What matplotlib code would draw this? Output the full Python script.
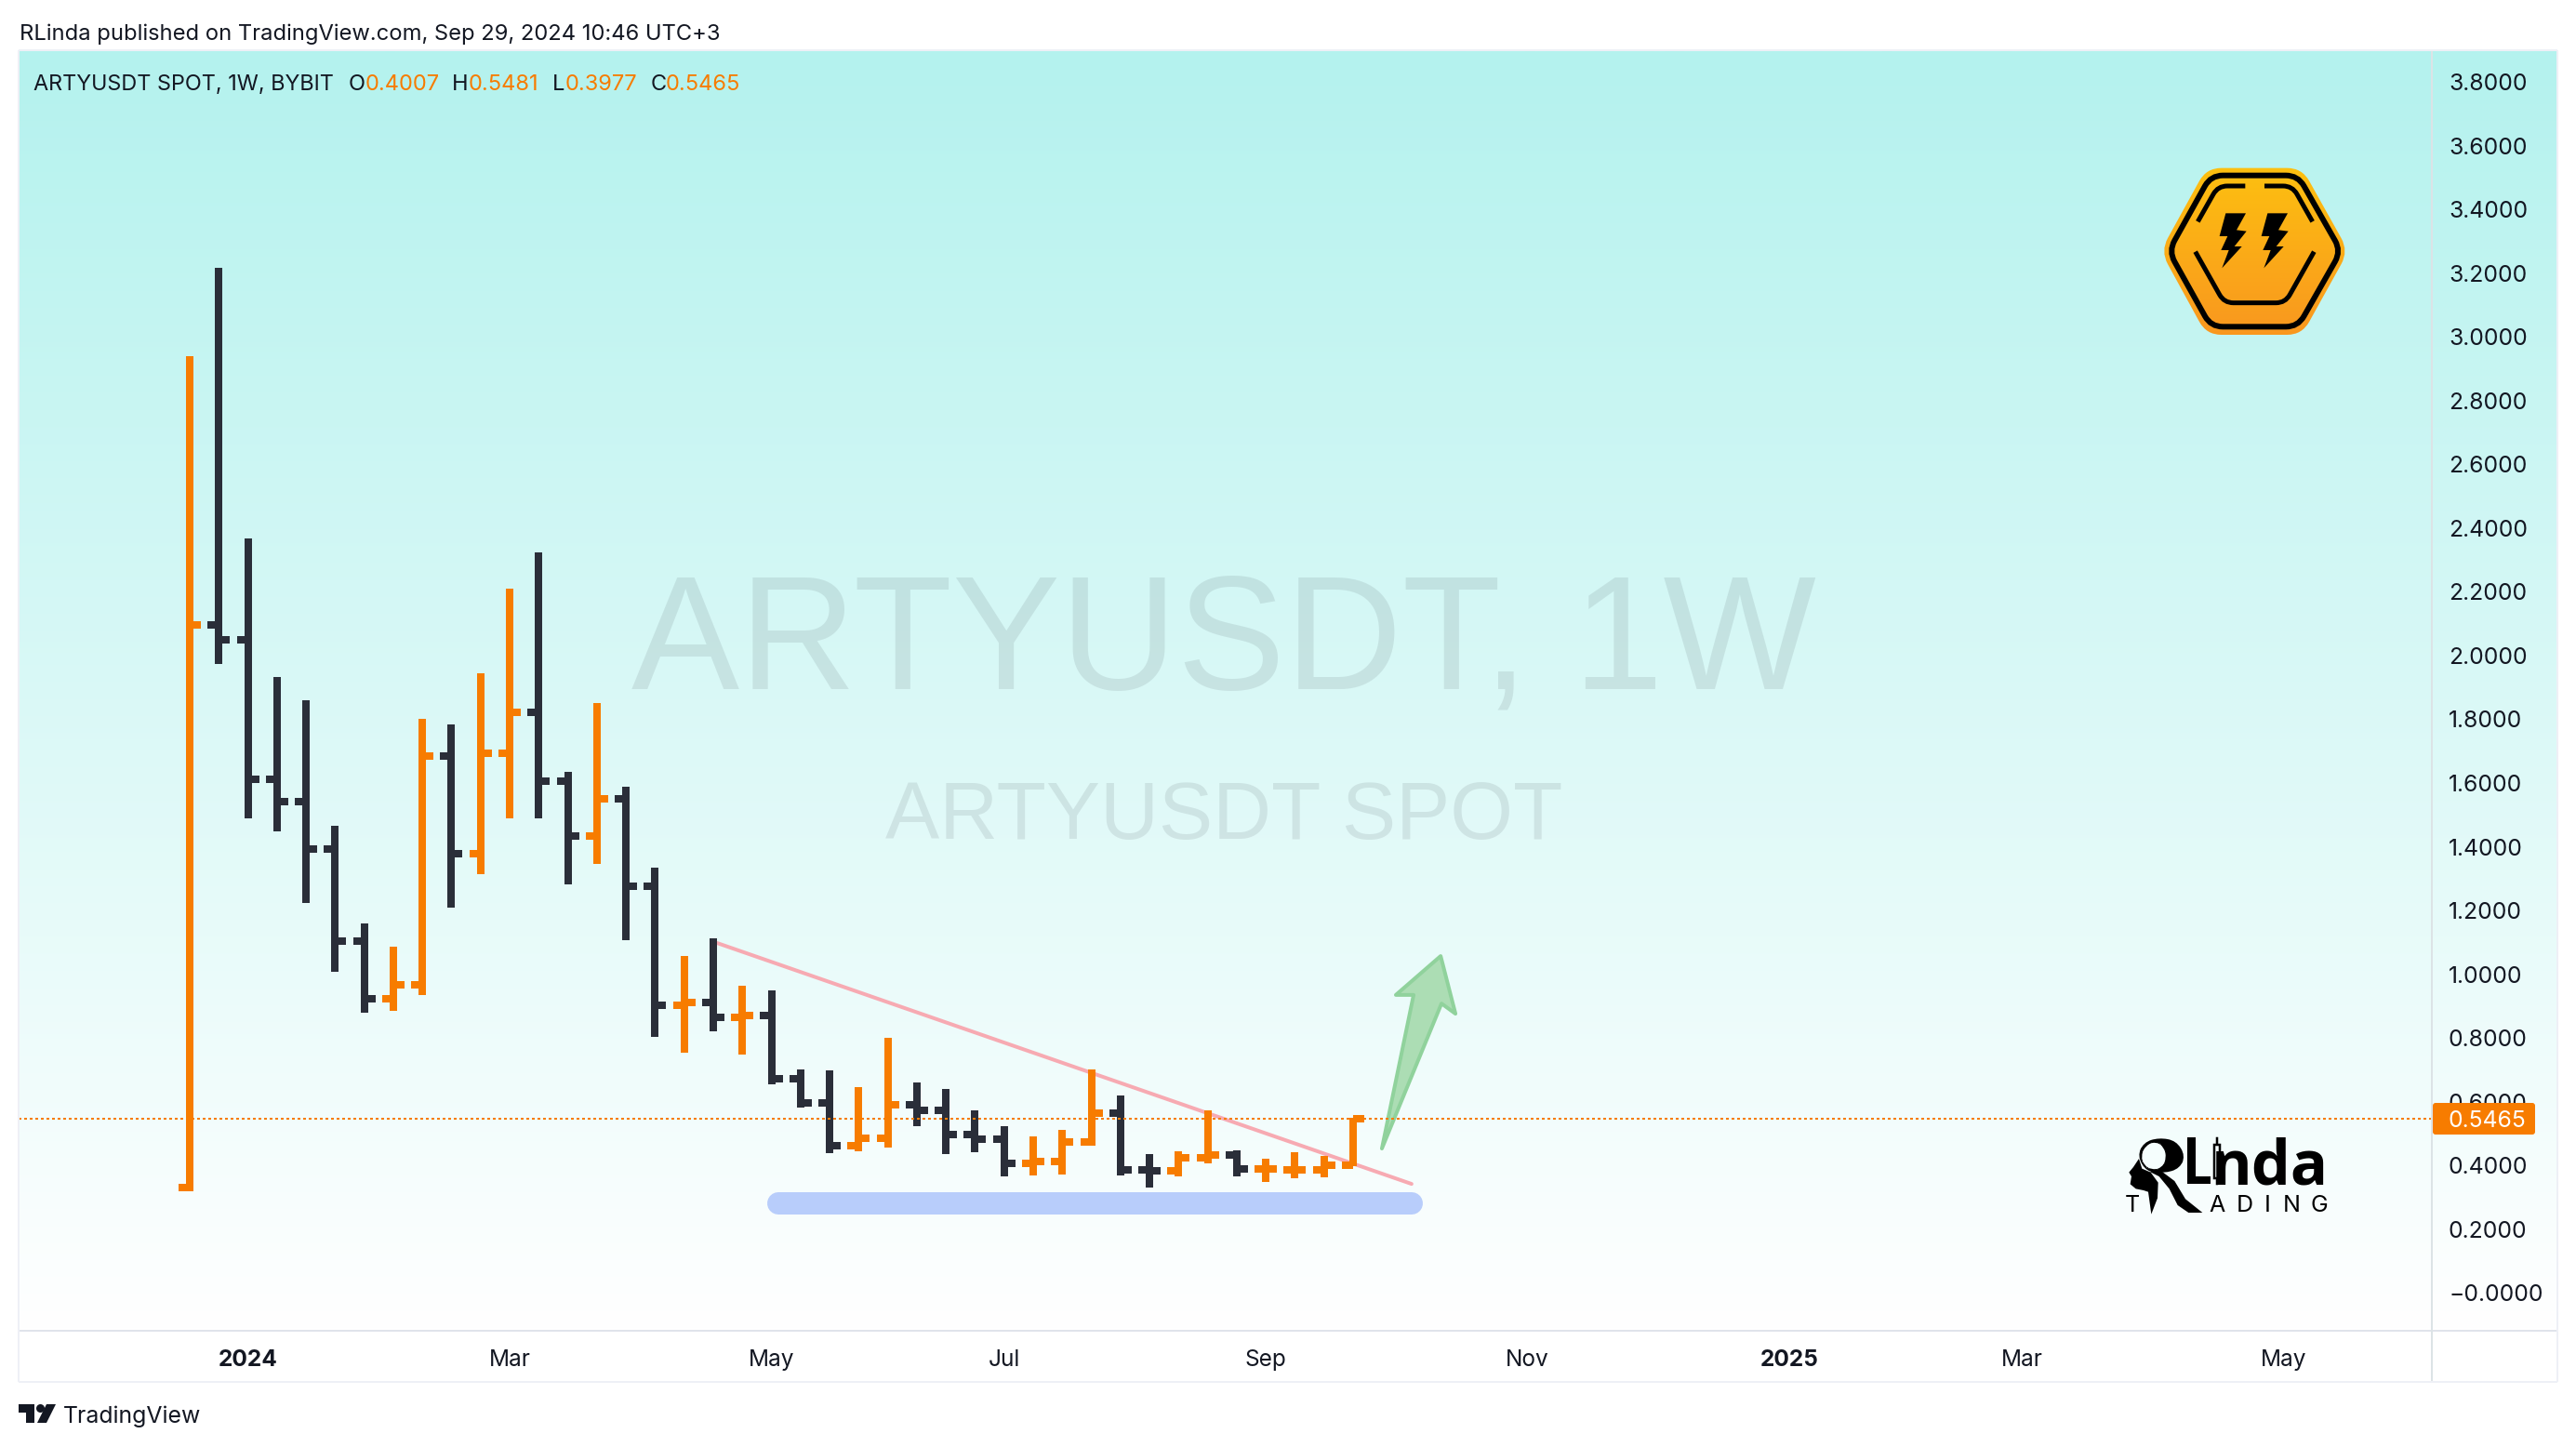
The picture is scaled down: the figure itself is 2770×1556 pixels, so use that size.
import matplotlib
matplotlib.use("Agg")
import matplotlib.pyplot as plt
import numpy as np
from matplotlib.patches import Circle, PathPatch, Polygon, Rectangle
from matplotlib.path import Path

plt.rcParams["font.family"] = ["Inter", "DejaVu Sans"]

W, H = 2770, 1556
DPI = 200
PX = 72 / DPI  # one pixel in points

# weekly bars
opens = [0.331, 2.096, 2.050, 1.612, 1.541, 1.392, 1.104, 0.923, 0.967, 1.685, 1.379, 1.692, 1.823, 1.606,
         1.434, 1.550, 1.276, 0.903, 0.911, 0.865, 0.870, 0.672, 0.596, 0.462, 0.485, 0.590, 0.573, 0.497,
         0.482, 0.406, 0.412, 0.473, 0.564, 0.386, 0.383, 0.424, 0.432, 0.389, 0.386, 0.386, 0.4007]
highs = [2.939, 3.216, 2.368, 1.932, 1.860, 1.466, 1.159, 1.086, 1.801, 1.784, 1.945, 2.210, 2.324, 1.635,
         1.851, 1.588, 1.334, 1.057, 1.112, 0.964, 0.949, 0.701, 0.698, 0.646, 0.800, 0.660, 0.640, 0.573,
         0.523, 0.491, 0.511, 0.701, 0.619, 0.436, 0.445, 0.573, 0.447, 0.421, 0.441, 0.429, 0.5481]
lows = [0.319, 1.974, 1.489, 1.449, 1.224, 1.008, 0.879, 0.885, 0.935, 1.209, 1.314, 1.489, 1.489, 1.282,
        1.346, 1.107, 0.803, 0.754, 0.821, 0.748, 0.654, 0.582, 0.439, 0.445, 0.456, 0.523, 0.436, 0.441,
        0.365, 0.369, 0.372, 0.462, 0.369, 0.331, 0.365, 0.406, 0.365, 0.348, 0.359, 0.362, 0.3977]
closes = [2.096, 2.050, 1.612, 1.541, 1.392, 1.104, 0.923, 0.967, 1.685, 1.379, 1.692, 1.823, 1.606, 1.434,
          1.550, 1.276, 0.903, 0.911, 0.865, 0.870, 0.672, 0.596, 0.462, 0.485, 0.590, 0.573, 0.497, 0.482,
          0.406, 0.412, 0.473, 0.564, 0.386, 0.383, 0.424, 0.432, 0.389, 0.389, 0.386, 0.400, 0.5465]

last_price = 0.5465
price_ticks = [0.2 * i for i in range(20)]
price_labels = ["\u22120.0000"] + [f"{v:.4f}" for v in price_ticks[1:]]
week_ticks = [2, 11, 20, 28, 37, 46, 55, 63, 72]
week_labels = ["2024", "Mar", "May", "Jul", "Sep", "Nov", "2025", "Mar", "May"]

trend_x = [18.13, 42.01]
trend_y = [1.098, 0.342]
support_x = [20.24, 42.0]
support_y = [0.28, 0.28]
arrow_x = [40.99, 42.08, 41.47, 43.01, 43.52, 43.04]
arrow_y = [0.453, 0.935, 0.935, 1.057, 0.876, 0.908]

ORANGE = "#F77C00"
DARK = "#2A2E39"
TEXT = "#131722"

# logo outlines, in pixels of the 3x crops
hex_outer = [(220, 360), (368, 92), (676, 92), (826, 360), (676, 630), (368, 630)]
hex_ring = [(246, 360), (382, 116), (663, 116), (802, 360), (663, 604), (382, 604)]
hex_left = [(340, 265), (405, 150), (493, 150)]
hex_right = [(555, 150), (645, 150), (710, 265)]
hex_bottom = [(332, 362), (425, 527), (622, 527), (715, 362)]
bolt = [(430, 238), (495, 238), (465, 292), (497, 296), (458, 345), (482, 345), (418, 415), (440, 357),
        (415, 357), (436, 312), (410, 312)]


def rounded(pts, r, closed=True):
    pts = [np.array(p, float) for p in pts]
    n = len(pts)
    verts, codes = [], []
    idx = range(n) if closed else range(1, n - 1)
    if not closed:
        verts.append(pts[0])
        codes.append(Path.MOVETO)
    for i in idx:
        p, a, b = pts[i], pts[i - 1], pts[(i + 1) % n]
        s = p + (a - p) / np.linalg.norm(a - p) * r
        e = p + (b - p) / np.linalg.norm(b - p) * r
        verts.append(s)
        codes.append(Path.MOVETO if closed and not verts[:-1] else Path.LINETO)
        verts += [p, e]
        codes += [Path.CURVE3, Path.CURVE3]
    if closed:
        verts.append(verts[0])
        codes.append(Path.CLOSEPOLY)
    else:
        verts.append(pts[-1])
        codes.append(Path.LINETO)
    return Path(np.array(verts), codes)


def hexpx(pts):
    return [(2250 + x / 3, 150 + y / 3) for x, y in pts]


def linda(pts):
    return [(2270 + x / 3, 1210 + y / 3) for x, y in pts]


fig = plt.figure(figsize=(W / DPI, H / DPI), dpi=DPI, facecolor="white")

# gradient pane
bg = fig.add_axes([0, 0, 1, 1], zorder=0)
bg.set_axis_off()
grad = np.linspace(0, 1, 256)[:, None]
top = np.array([180, 242, 238]) / 255
colors = (top + (1 - top) * grad)[:, None, :].reshape(256, 1, 3)
bg.imshow(colors, extent=(20, 2750, 1431, 54), aspect="auto", interpolation="bilinear")
bg.set_xlim(0, W)
bg.set_ylim(H, 0)

# main chart
ax = fig.add_axes([20 / W, 1 - 1431 / H, (2615 - 20) / W, (1431 - 54) / H], zorder=1)
ax.patch.set_alpha(0)
for s in ax.spines.values():
    s.set_visible(False)

x = np.arange(len(opens))
bar_colors = [ORANGE if c >= o else DARK for o, c in zip(opens, closes)]
tick_len = 12 / 31.275
ax.vlines(x, lows, highs, colors=bar_colors, lw=8 * PX, capstyle="butt", antialiased=False, zorder=3)
ax.hlines(opens, x - tick_len, x, colors=bar_colors, lw=8 * PX, capstyle="butt", antialiased=False, zorder=3)
ax.hlines(closes, x, x + tick_len, colors=bar_colors, lw=8 * PX, capstyle="butt", antialiased=False, zorder=3)

ax.plot(support_x, support_y, color="#B8CDFB", lw=24 * PX, solid_capstyle="round", zorder=2)
ax.plot(trend_x, trend_y, color="#F7AAB2", lw=4 * PX, solid_capstyle="round", zorder=2)
ax.add_patch(Polygon(list(zip(arrow_x, arrow_y)), closed=True, facecolor="#ACDDB4", edgecolor="#90D29C",
                     lw=4 * PX, joinstyle="round", zorder=2))
ax.axhline(last_price, color=ORANGE, lw=2 * PX, linestyle=(0, (1.5, 1.5)), dash_capstyle="butt", zorder=4)

ax.set_xlim((20 - 204) / 31.275, (2615 - 204) / 31.275)
ax.set_ylim((1390.3 - 1431) / 342.7, (1390.3 - 54) / 342.7)
ax.yaxis.tick_right()
ax.set_yticks(price_ticks, price_labels)
ax.set_xticks(week_ticks, week_labels)
ax.tick_params(axis="y", length=0, pad=18 * PX, labelsize=8.9, labelcolor=TEXT)
ax.tick_params(axis="x", length=0, pad=20 * PX, labelsize=8.8, labelcolor=TEXT)
for lab, txt in zip(ax.get_xticklabels(), week_labels):
    if txt.isdigit():
        lab.set_fontweight("bold")

# everything placed in picture pixels
pix = fig.add_axes([0, 0, 1, 1], zorder=2)
pix.set_axis_off()
pix.patch.set_alpha(0)

WM_FONT = ["Liberation Sans", "DejaVu Sans"]
pix.text(1316, 740, "ARTYUSDT, 1W", fontsize=62.7, family=WM_FONT, color=DARK, alpha=0.1, ha="center", va="baseline")
pix.text(1316, 902, "ARTYUSDT SPOT", fontsize=31.4, family=WM_FONT, color=DARK, alpha=0.1, ha="center", va="baseline")

pix.text(21, 37, "RLinda published on TradingView.com, Sep 29, 2024 10:46 UTC+3", fontsize=8.56, color=TEXT,
         va="center")
pix.text(36, 91, "ARTYUSDT SPOT, 1W, BYBIT", fontsize=8.45, color=TEXT, va="center")
for px_x, txt, col in [(375, "O", TEXT), (393, "0.4007", ORANGE), (486, "H", TEXT), (504, "0.5481", ORANGE),
                       (594, "L", TEXT), (608, "0.3977", ORANGE), (700, "C", TEXT), (716, "0.5465", ORANGE)]:
    pix.text(px_x, 91, txt, fontsize=8.5, color=col, va="center")

# frame
for xs, ys, col in [((20, 2750), (1431, 1431), "#E0E3EB"), ((2615, 2615), (54, 1486), "#DCE3E6"),
                    ((20, 20), (54, 1486), "#EEF0F6"), ((2750, 2750), (54, 1486), "#EEF0F6"),
                    ((20, 2750), (1486, 1486), "#EEF0F6"), ((20, 2750), (54, 54), "#EEF0F6")]:
    pix.plot(xs, ys, color=col, lw=2 * PX, solid_capstyle="butt")

# last price label
pix.add_patch(PathPatch(rounded([(2616, 1186), (2726, 1186), (2726, 1220), (2616, 1220)], 3),
                        facecolor=ORANGE, edgecolor="none"))
pix.text(2633, 1203, "0.5465", fontsize=8.9, color="white", va="center_baseline")

# hexagon logo
outer = PathPatch(rounded(hexpx(hex_outer), 16), facecolor="none", edgecolor="none")
pix.add_patch(outer)
hex_grad = np.linspace(0, 1, 64)[:, None, None] * (np.array([249, 151, 31]) - np.array([253, 192, 16])) + np.array([253, 192, 16])
im = pix.imshow(hex_grad / 255, extent=(2320, 2530, 362, 178), aspect="auto", interpolation="bilinear")
im.set_clip_path(outer)
pix.add_patch(PathPatch(rounded(hexpx(hex_ring), 13), facecolor="none", edgecolor="black", lw=6 * PX))
for seg in (hex_left, hex_right, hex_bottom):
    pix.add_patch(PathPatch(rounded(hexpx(seg), 10, closed=False), facecolor="none", edgecolor="black",
                            lw=5 * PX, capstyle="butt"))
for dx in (0, 135):
    pix.add_patch(Polygon(hexpx([(a + dx, b) for a, b in bolt]), closed=True, facecolor="black", edgecolor="none"))

# RLinda logo
bowl_out = [(85, 100), (105, 55), (155, 40), (210, 50), (240, 98), (222, 140), (170, 155), (115, 150)]
bowl_in = [(95, 100), (110, 65), (145, 50), (172, 70), (180, 105), (165, 140), (130, 145), (105, 130)]
pix.add_patch(PathPatch(rounded(linda(bowl_out), 9), facecolor="black", edgecolor="none"))
pix.add_patch(PathPatch(rounded(linda(bowl_in), 9), facecolor="#F5FEFD", edgecolor="none"))
pix.add_patch(Polygon(linda([(125, 150), (165, 150), (205, 180), (240, 238), (295, 282), (250, 282), (215, 258),
                             (188, 205), (155, 165)]), closed=True, facecolor="black", edgecolor="none"))
pix.add_patch(Polygon(linda([(90, 108), (72, 135), (58, 152), (66, 165), (62, 190), (80, 205), (105, 210),
                             (120, 215), (130, 287), (150, 235), (152, 185), (128, 152), (100, 140)]),
                      closed=True, facecolor="black", edgecolor="none"))
pix.add_patch(Polygon(linda([(245, 40), (272, 40), (272, 165), (322, 165), (322, 190), (245, 190)]), closed=True,
                      facecolor="black", edgecolor="none"))
pix.plot(*zip(*linda([(342, 42), (342, 190)])), color="black", lw=2.5 * PX)
pix.add_patch(Rectangle((2270 + 332 / 3, 1210 + 62 / 3), 20 / 3, 110 / 3, facecolor="#F5FEFD", edgecolor="black",
                        lw=2.5 * PX, zorder=3))
pix.text(2270 + 703 / 3, 1210 + 190 / 3, "nda", fontsize=24, fontweight="bold", family=["Open Sans", "DejaVu Sans"],
         color="black", ha="right", va="baseline")
for px_x, letter in [(2293, "T"), (2384, "A"), (2414, "D"), (2438, "I"), (2464, "N"), (2494, "G")]:
    pix.text(px_x, 1303, letter, fontsize=9, color="black", ha="center", va="baseline")

# TradingView footer
pix.add_patch(Polygon([(20, 1510), (37, 1510), (37, 1530), (28, 1530), (28, 1519), (20, 1519)], closed=True,
                      facecolor=TEXT, edgecolor="none"))
pix.add_patch(Circle((43.5, 1514.5), 4.5, facecolor=TEXT, edgecolor="none"))
pix.add_patch(Polygon([(50, 1510), (60, 1510), (50, 1530), (40, 1530)], closed=True, facecolor=TEXT, edgecolor="none"))
pix.text(68, 1523, "TradingView", fontsize=8.95, color=TEXT, va="center")

pix.set_xlim(0, W)
pix.set_ylim(H, 0)

fig.savefig("out.png", dpi=DPI)
